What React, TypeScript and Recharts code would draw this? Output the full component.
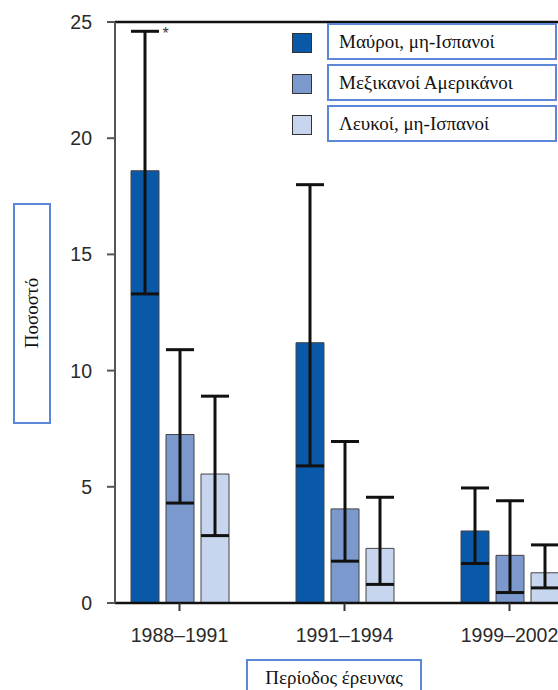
import React from 'react';
import {
  BarChart,
  Bar,
  XAxis,
  YAxis,
  ErrorBar,
  ReferenceLine,
  ReferenceDot
} from 'recharts';

const periods = ['1988–1991', '1991–1994', '1999–2002'];
const seriesNames = ['Μαύροι, μη-Ισπανοί', 'Μεξικανοί Αμερικάνοι', 'Λευκοί, μη-Ισπανοί'];
const yTicks = [0, 5, 10, 15, 20, 25];

const blackValues = [18.6, 11.2, 3.1];
const blackLow = [13.3, 5.9, 1.7];
const blackHigh = [24.6, 18.0, 4.95];

const mexValues = [7.25, 4.05, 2.05];
const mexLow = [4.3, 1.8, 0.45];
const mexHigh = [10.9, 6.95, 4.4];

const whiteValues = [5.55, 2.35, 1.3];
const whiteLow = [2.9, 0.8, 0.65];
const whiteHigh = [8.9, 4.55, 2.5];

const COLORS = ['#0a59a8', '#7b99cd', '#c7d5ee'];

const SERIF = '"Liberation Serif", "Times New Roman", serif';
const SANS = '"Liberation Sans", Arial, sans-serif';

const data = periods.map((p, i) => ({
  period: p,
  black: blackValues[i],
  blackErr: [blackValues[i] - blackLow[i], blackHigh[i] - blackValues[i]],
  mex: mexValues[i],
  mexErr: [mexValues[i] - mexLow[i], mexHigh[i] - mexValues[i]],
  white: whiteValues[i],
  whiteErr: [whiteValues[i] - whiteLow[i], whiteHigh[i] - whiteValues[i]]
}));

const boxBorder = '2px solid #5b87d6';

const App: React.FC = () => {
  const keys = ['black', 'mex', 'white'];

  return (
    <div
      style={{
        position: 'absolute',
        left: 0,
        top: 0,
        width: 558,
        height: 690,
        overflow: 'hidden',
        background: '#fff'
      }}
    >
      <BarChart
        width={600}
        height={690}
        data={data}
        margin={{ top: 22, right: 0, bottom: 47, left: 0 }}
        barSize={28}
        barGap={7}
      >
        <XAxis
          dataKey="period"
          padding={{ left: -18, right: 8 }}
          height={40}
          stroke="#111"
          strokeWidth={2.5}
          tickSize={8}
          tickMargin={17}
          tick={{ fill: '#2a2a2a', fontSize: 19.5, fontFamily: SANS }}
          tickLine={{ stroke: '#333', strokeWidth: 2 }}
        />
        <YAxis
          domain={[0, 25]}
          ticks={yTicks}
          width={115}
          stroke="#555"
          strokeWidth={2}
          tickSize={8}
          tickMargin={15}
          tick={{ fill: '#2a2a2a', fontSize: 19.5, fontFamily: SANS }}
          tickLine={{ stroke: '#555', strokeWidth: 2 }}
        />
        <ReferenceLine y={25} stroke="#111" strokeWidth={2.5} />
        {keys.map((k, i) => (
          <Bar
            key={k}
            dataKey={k}
            name={seriesNames[i]}
            fill={COLORS[i]}
            stroke="#444"
            strokeWidth={1}
            isAnimationActive={false}
          >
            <ErrorBar
              dataKey={`${k}Err`}
              width={14}
              stroke="#111"
              strokeWidth={3}
              direction="y"
            />
          </Bar>
        ))}
        <ReferenceDot
          x={periods[0]}
          y={blackHigh[0]}
          r={0}
          shape={(p: any) => (
            <text
              x={p.cx - 17}
              y={p.cy + 8}
              fontSize={16}
              fontFamily={SANS}
              fill="#333"
            >
              *
            </text>
          )}
        />
      </BarChart>

      {/* legend */}
      {seriesNames.map((name, i) => (
        <React.Fragment key={name}>
          <div
            style={{
              position: 'absolute',
              left: 292,
              top: 33 + i * 41,
              width: 18,
              height: 18,
              background: COLORS[i],
              border: '1.5px solid #333'
            }}
          />
          <div
            style={{
              position: 'absolute',
              left: 327,
              top: 23 + i * 41,
              width: 216,
              height: 33,
              border: boxBorder,
              background: '#fff',
              fontFamily: SERIF,
              fontSize: 19,
              lineHeight: '33px',
              paddingLeft: 10,
              boxSizing: 'content-box',
              color: '#111',
              whiteSpace: 'nowrap'
            }}
          >
            {name}
          </div>
        </React.Fragment>
      ))}

      {/* y label */}
      <div
        style={{
          position: 'absolute',
          left: 13,
          top: 203,
          width: 34,
          height: 217,
          border: boxBorder,
          background: '#fff'
        }}
      >
        <div
          style={{
            position: 'absolute',
            left: 17,
            top: 108,
            transform: 'translate(-50%, -50%) rotate(-90deg)',
            fontFamily: SERIF,
            fontSize: 19,
            color: '#111',
            whiteSpace: 'nowrap'
          }}
        >
          Ποσοστό
        </div>
      </div>

      {/* x label */}
      <div
        style={{
          position: 'absolute',
          left: 246,
          top: 659,
          width: 172,
          height: 40,
          border: boxBorder,
          background: '#fff',
          fontFamily: SERIF,
          fontSize: 19,
          color: '#111',
          textAlign: 'center',
          lineHeight: '34px',
          whiteSpace: 'nowrap'
        }}
      >
        Περίοδος έρευνας
      </div>
    </div>
  );
};

export default App;
